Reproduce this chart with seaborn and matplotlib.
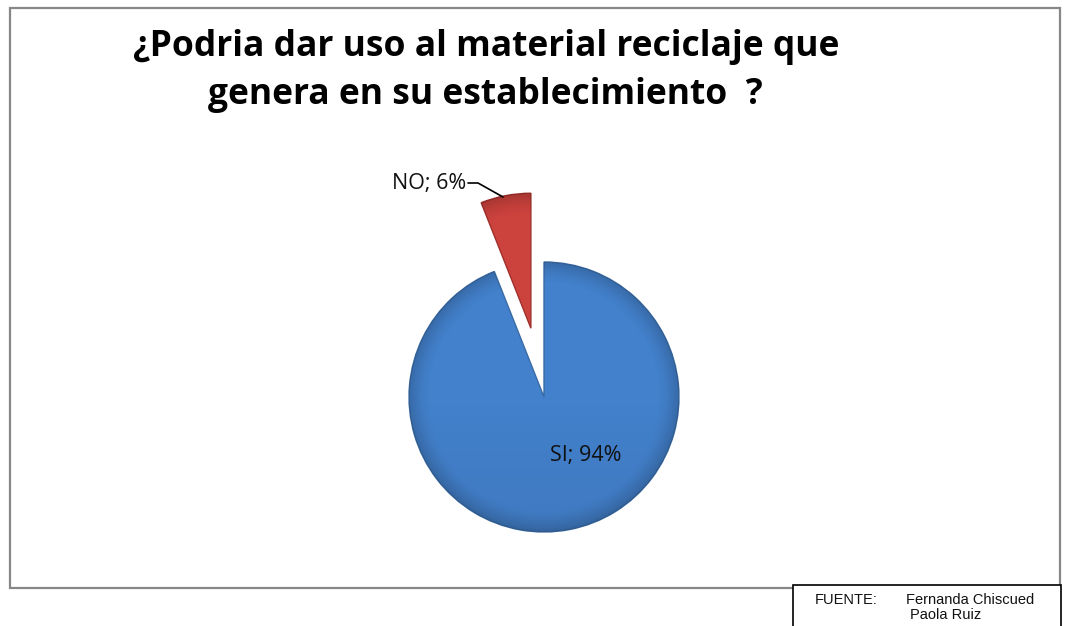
import numpy as np
import pandas as pd
import matplotlib
matplotlib.use("Agg")
import matplotlib.pyplot as plt
import matplotlib.patches as mpatches
import seaborn as sns

# ---- data ----
categories = ["SI", "NO"]
percentages = [94, 6]
title_lines = ["¿Podria dar uso al material reciclaje que",
               "genera en su establecimiento  ?"]
source_label = "FUENTE:"
source_names = ["Fernanda Chiscued", "Paola Ruiz"]

sns.set_theme(style="white")
plt.rcParams['font.family'] = ['Open Sans', 'DejaVu Sans']

W, H = 1068, 626
fig = plt.figure(figsize=(W / 100, H / 100), dpi=100)
fig.patch.set_facecolor("white")
ax = fig.add_axes([0, 0, 1, 1])

df = pd.DataFrame({"cat": categories, "pct": percentages})
palette = dict(zip(categories, ["#4381cc", "#cc423d"]))
edge_palette = dict(zip(categories, ["#3a6ba5", "#a0302c"]))

cx, cy, r = 544, H - 397, 135
explode = [0, 70]
wedges, _ = ax.pie(df["pct"], colors=[palette[c] for c in df["cat"]],
                   startangle=90, counterclock=False, center=(cx, cy),
                   radius=r, explode=explode,
                   wedgeprops=dict(linewidth=1.0))
for w, c in zip(wedges, df["cat"]):
    w.set_edgecolor(edge_palette[c])

ax.set_xlim(0, W)
ax.set_ylim(0, H)
ax.set_aspect("auto")
ax.axis("off")

# subtle bevel shading clipped to each wedge
xx, yy = np.meshgrid(np.arange(W) + 0.5, np.arange(H) + 0.5)
for w in wedges:
    wx, wy = w.center
    d = np.hypot(xx - wx, yy - wy) / w.r
    alpha = np.clip((d - 0.84) / 0.16, 0, 1) ** 1.5 * 0.18
    alpha = alpha + np.clip((wy - yy) / w.r, 0, 1) * 0.06
    rgba = np.zeros((H, W, 4))
    rgba[..., 3] = np.clip(alpha, 0, 1)
    im = ax.imshow(rgba, extent=(0, W, 0, H), origin="lower",
                   interpolation="bilinear", zorder=w.get_zorder() + 0.1,
                   aspect="auto")
    im.set_clip_path(w)

ax.set_xlim(0, W)
ax.set_ylim(0, H)

# outer chart border
ax.add_patch(mpatches.Rectangle((10, H - 588), 1050, 580, fill=False,
                                edgecolor="#878787", linewidth=1.6, zorder=0))

# title
ax.text(486, H - 56, title_lines[0], ha="center", va="baseline",
        fontsize=25.5, fontweight="bold", color="black")
ax.text(485, H - 104, title_lines[1], ha="center", va="baseline",
        fontsize=25.5, fontweight="bold", color="black")

# data labels
lab = {c: f"{c}; {p}%" for c, p in zip(df["cat"], df["pct"])}
ax.text(466, H - 184, lab["NO"], ha="right", va="center", fontsize=15.5,
        color="#111111", zorder=7)
ax.plot([468, 478, 503], [H - 183, H - 183, H - 197], color="black", lw=1.2,
        zorder=7)
ax.text(586, H - 456, lab["SI"], ha="center", va="center", fontsize=15.5,
        color="#111111", zorder=7)

# source box
ax.add_patch(mpatches.Rectangle((793, -5), 268, H - 585 + 5, facecolor="white",
                                edgecolor="black", linewidth=1.2, zorder=8))
ft = dict(ha="left", va="baseline", fontsize=10.5, family=["Liberation Sans"],
          zorder=9, color="#111111")
ax.text(815, H - 604, source_label, **ft)
ax.text(906, H - 604, source_names[0], **ft)
ax.text(910, H - 619, source_names[1], **ft)

fig.savefig("out.png", dpi=100, facecolor="white")
